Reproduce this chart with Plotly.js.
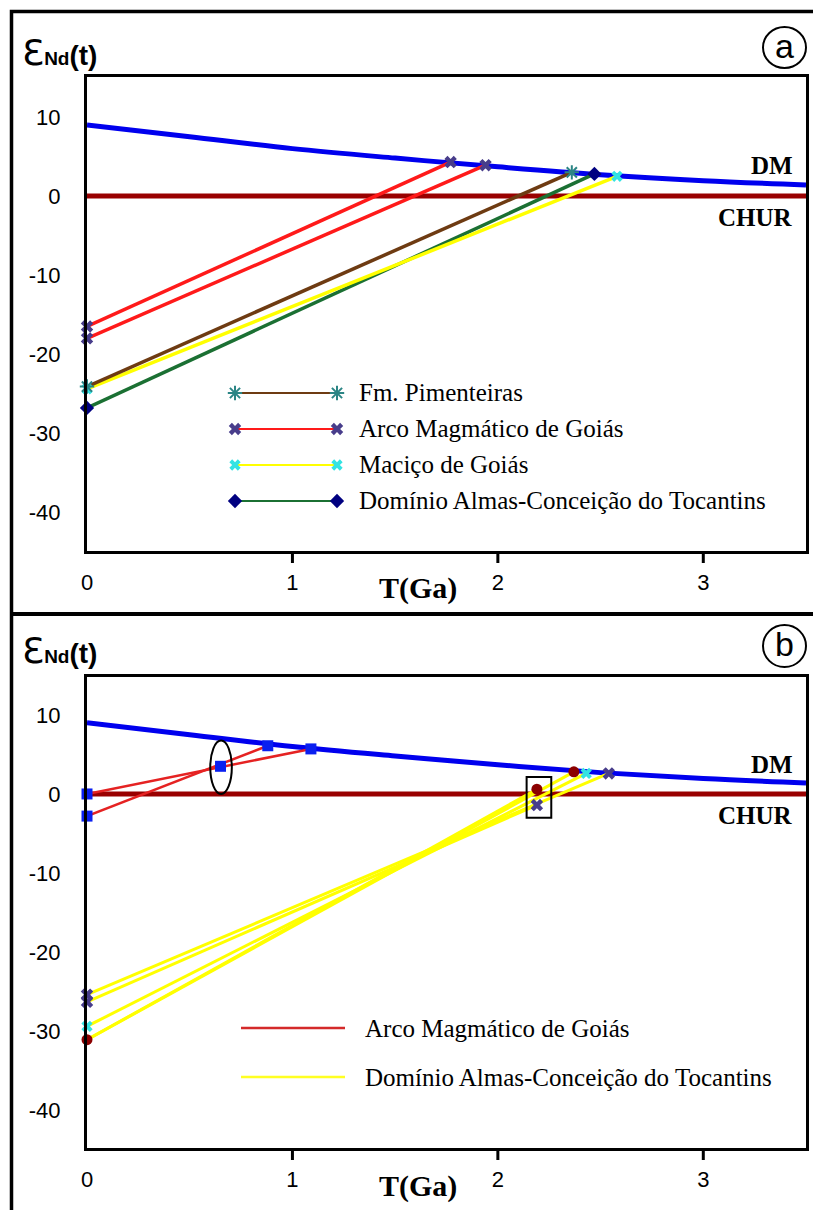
<!DOCTYPE html>
<html>
<head>
<meta charset="utf-8">
<script src="https://cdn.plot.ly/plotly-3.0.1.min.js"></script>
<style>html,body{margin:0;padding:0;background:#fff;}#chart{width:813px;height:1210px;}</style>
</head>
<body>
<div id="chart"></div>
<script>
// ---------------- DATA ----------------
const X_TICKS = [0, 1, 2, 3];
const X_TICK_TEXT = ['0', '1', '2', '3'];
const Y_TICKS = [10, 0, -10, -20, -30, -40];
const Y_TICK_TEXT = ['10', '0', '-10', '-20', '-30', '-40'];
const X_TICK_MARKS = [1, 2, 3];

// reference curves
const DM_T = [0, 0.5, 1.0, 1.5, 2.0, 2.5, 3.0, 3.5];
const DM_E = [9.0, 7.5, 6.0, 4.8, 3.7, 2.7, 1.95, 1.4];
const CHUR_T = [0, 3.5];
const CHUR_E = [0, 0];

// panel (a)
const A_PIM_T = [0, 2.36];   const A_PIM_E = [-24.1, 3.0];
const A_ARCO1_T = [0, 1.77]; const A_ARCO1_E = [-16.5, 4.3];
const A_ARCO2_T = [0, 1.94]; const A_ARCO2_E = [-18.0, 3.9];
const A_MAC_T = [0, 2.58];   const A_MAC_E = [-24.4, 2.5];
const A_DOM_T = [0, 2.47];   const A_DOM_E = [-26.8, 2.8];
const A_LEGEND = ['Fm. Pimenteiras', 'Arco Magmático de Goiás', 'Maciço de Goiás', 'Domínio Almas-Conceição do Tocantins'];

// panel (b)
const B_ARCO1_T = [0, 1.09];  const B_ARCO1_E = [0, 5.7];
const B_ARCO2_T = [0, 0.88];  const B_ARCO2_E = [-2.8, 6.1];
const B_SQ_T = [0, 0, 0.65, 0.88, 1.09];
const B_SQ_E = [0, -2.8, 3.5, 6.1, 5.7];
const B_DOM1_T = [0, 2.54]; const B_DOM1_E = [-25.4, 2.6];
const B_DOM2_T = [0, 2.19]; const B_DOM2_E = [-26.3, -1.4];
const B_DOM3_T = [0, 2.43]; const B_DOM3_E = [-29.4, 2.6];
const B_DOM4_T = [0, 2.37]; const B_DOM4_E = [-31.1, 2.8];
const B_DOM5_T = [0, 2.19]; const B_DOM5_E = [-31.1, 0.6];
const B_BX_T = [0, 0, 2.19, 2.54];  const B_BX_E = [-25.4, -26.3, -1.4, 2.6];
const B_CX_T = [0, 2.43];           const B_CX_E = [-29.4, 2.6];
const B_RC_T = [0, 2.19, 2.37];     const B_RC_E = [-31.1, 0.6, 2.8];
const B_LEGEND = ['Arco Magmático de Goiás', 'Domínio Almas-Conceição do Tocantins'];
// highlighted regions in panel b (data coords)
const B_ELLIPSE = {t: [0.60, 0.705], e: [0, 6.75]};
const B_BOX = {t: [2.14, 2.26], e: [-3.0, 2.15]};

// ---------------- LAYOUT HELPERS ----------------
const W = 813, H = 1210;
const PX = v => v / W;
const PY = v => 1 - v / H;

const C = {
  dm: '#0000ee', chur: '#990000', red: '#ff1a1a', brown: '#6e3b12',
  yellow: '#ffff00', green: '#1b7033', arco: '#483d8b', mac: '#33e3e3',
  pim: '#2b8585', dom: '#000080', sq: '#0a1ff0', rc: '#8b0000'
};
const M = {
  pim: {symbol: 'asterisk-open', size: 12, color: C.pim, line: {color: C.pim, width: 2}},
  arco: {symbol: 'x', size: 11, color: C.arco, line: {width: 0}},
  mac: {symbol: 'x', size: 10, color: C.mac, line: {width: 0}},
  dom: {symbol: 'diamond', size: 11, color: C.dom, line: {width: 0}},
  sq: {symbol: 'square', size: 11, color: C.sq, line: {width: 0}},
  rc: {symbol: 'circle', size: 11, color: C.rc, line: {width: 0}}
};

function line(x, y, color, width, xa, ya, marker) {
  const t = {x: x, y: y, xaxis: xa, yaxis: ya, type: 'scatter', hoverinfo: 'skip',
    mode: marker ? 'lines+markers' : 'lines', line: {color: color, width: width}, cliponaxis: false};
  if (marker) t.marker = marker;
  return t;
}
function marks(x, y, marker, xa, ya) {
  return {x: x, y: y, xaxis: xa, yaxis: ya, type: 'scatter', mode: 'markers', marker: marker,
    cliponaxis: false, hoverinfo: 'skip'};
}

const traces = [];
// panel a
traces.push(line(CHUR_T, CHUR_E, C.chur, 5, 'x', 'y'));
traces.push(Object.assign(line(DM_T, DM_E, C.dm, 5, 'x', 'y'), {line: {color: C.dm, width: 5, shape: 'spline'}}));
traces.push(line(A_DOM_T, A_DOM_E, C.green, 3.5, 'x', 'y'));
traces.push(line(A_MAC_T, A_MAC_E, C.yellow, 3.5, 'x', 'y'));
traces.push(line(A_PIM_T, A_PIM_E, C.brown, 3.5, 'x', 'y'));
traces.push(line(A_ARCO1_T, A_ARCO1_E, C.red, 3.5, 'x', 'y'));
traces.push(line(A_ARCO2_T, A_ARCO2_E, C.red, 3.5, 'x', 'y'));
traces.push(marks(A_DOM_T, A_DOM_E, M.dom, 'x', 'y'));
traces.push(marks(A_MAC_T, A_MAC_E, M.mac, 'x', 'y'));
traces.push(marks(A_PIM_T, A_PIM_E, M.pim, 'x', 'y'));
traces.push(marks(A_ARCO1_T, A_ARCO1_E, M.arco, 'x', 'y'));
traces.push(marks(A_ARCO2_T, A_ARCO2_E, M.arco, 'x', 'y'));

// panel b
traces.push(line(CHUR_T, CHUR_E, C.chur, 5, 'x2', 'y2'));
traces.push(Object.assign(line(DM_T, DM_E, C.dm, 5, 'x2', 'y2'), {line: {color: C.dm, width: 5, shape: 'spline'}}));
[[B_DOM1_T, B_DOM1_E], [B_DOM2_T, B_DOM2_E], [B_DOM3_T, B_DOM3_E], [B_DOM4_T, B_DOM4_E], [B_DOM5_T, B_DOM5_E]]
  .forEach(p => traces.push(line(p[0], p[1], C.yellow, 3, 'x2', 'y2')));
traces.push(line(B_ARCO1_T, B_ARCO1_E, '#e52222', 2.5, 'x2', 'y2'));
traces.push(line(B_ARCO2_T, B_ARCO2_E, '#e52222', 2.5, 'x2', 'y2'));
traces.push(marks(B_SQ_T, B_SQ_E, M.sq, 'x2', 'y2'));
traces.push(marks(B_BX_T, B_BX_E, M.arco, 'x2', 'y2'));
traces.push(marks(B_CX_T, B_CX_E, M.mac, 'x2', 'y2'));
traces.push(marks(B_RC_T, B_RC_E, M.rc, 'x2', 'y2'));

// legend samples (overlay pixel axes)
const LEG_A = {x0: 235, x1: 337, xt: 357, rows: [393, 429, 465, 501]};
const LEG_B = {x0: 241, x1: 345, xt: 363, rows: [1028, 1077]};
const legA = [[C.brown, M.pim], [C.red, M.arco], [C.yellow, M.mac], [C.green, M.dom]];
legA.forEach((s, i) => {
  const r = LEG_A.rows[i];
  traces.push(line([LEG_A.x0, LEG_A.x1], [r, r], s[0], 2, 'x3', 'y3', s[1]));
});
const legB = [['#d42a2a'], ['#ffff22']];
legB.forEach((s, i) => {
  const r = LEG_B.rows[i];
  traces.push(line([LEG_B.x0, LEG_B.x1], [r, r], s[0], 2.5, 'x3', 'y3'));
});

// ---------------- AXES ----------------
const tickFont = {family: 'Liberation Sans, Arial, sans-serif', size: 22, color: '#000'};
function xax(anchor) {
  return {domain: [PX(87), PX(806)], anchor: anchor, range: [0, 3.5], showgrid: false, zeroline: false,
    showline: true, mirror: true, linecolor: '#000', linewidth: 3, ticks: '',
    tickvals: X_TICKS, ticktext: X_TICK_TEXT, tickfont: tickFont, ticklabelstandoff: 10, fixedrange: true};
}
function yax(anchor, dom, rng) {
  return {domain: dom, anchor: anchor, range: rng, showgrid: false, zeroline: false,
    showline: true, mirror: true, linecolor: '#000', linewidth: 3, ticks: '',
    tickvals: Y_TICKS, ticktext: Y_TICK_TEXT, tickfont: tickFont, ticklabelstandoff: 19, fixedrange: true};
}

const shapes = [];
// outer frame and divider
shapes.push({type: 'rect', xref: 'paper', yref: 'paper', x0: PX(11.5), x1: PX(830), y0: PY(1230), y1: PY(11.5),
  line: {color: '#000', width: 3.5}, layer: 'below'});
shapes.push({type: 'line', xref: 'paper', yref: 'paper', x0: PX(11.5), x1: 1.02, y0: PY(614), y1: PY(614),
  line: {color: '#000', width: 4}});
// x tick marks
X_TICK_MARKS.forEach(v => {
  shapes.push({type: 'line', xref: 'x', yref: 'paper', x0: v, x1: v, y0: PY(551), y1: PY(563), line: {color: '#000', width: 3}});
  shapes.push({type: 'line', xref: 'x2', yref: 'paper', x0: v, x1: v, y0: PY(1148), y1: PY(1160), line: {color: '#000', width: 3}});
});
// panel labels circles
shapes.push({type: 'circle', xref: 'paper', yref: 'paper', x0: PX(763), x1: PX(806), y0: PY(68), y1: PY(27), line: {color: '#000', width: 2}});
shapes.push({type: 'circle', xref: 'paper', yref: 'paper', x0: PX(763), x1: PX(806), y0: PY(667), y1: PY(625), line: {color: '#000', width: 2}});
// highlight ellipse & box in panel b
shapes.push({type: 'circle', xref: 'x2', yref: 'y2', x0: B_ELLIPSE.t[0], x1: B_ELLIPSE.t[1], y0: B_ELLIPSE.e[0], y1: B_ELLIPSE.e[1],
  line: {color: '#000', width: 2}});
shapes.push({type: 'rect', xref: 'x2', yref: 'y2', x0: B_BOX.t[0], x1: B_BOX.t[1], y0: B_BOX.e[0], y1: B_BOX.e[1],
  line: {color: '#000', width: 2}});

const serifB = {family: 'Liberation Serif, Times New Roman, serif', size: 25, color: '#000'};
const annotations = [];
function ann(text, x, y, font, xanchor) {
  annotations.push({text: text, xref: 'paper', yref: 'paper', x: PX(x), y: PY(y), showarrow: false,
    xanchor: xanchor || 'center', yanchor: 'middle', font: font});
}
const epsText = '<span style="font-family:\'DejaVu Sans\';font-size:36px">Ɛ</span>' +
  '<b><span style="font-size:19px">Nd</span><span style="font-size:28px">(t)</span></b>';
const epsFont = {family: 'Liberation Sans, Arial, sans-serif', size: 28, color: '#000'};
ann(epsText, 20, 52, epsFont, 'left');
ann(epsText, 20, 650, epsFont, 'left');
ann('a', 784.5, 46, {family: 'Liberation Sans, Arial, sans-serif', size: 34, color: '#000'});
ann('b', 784.5, 644, {family: 'Liberation Sans, Arial, sans-serif', size: 34, color: '#000'});
ann('<b>DM</b>', 795, 166, serifB, 'right');
ann('<b>CHUR</b>', 795, 217, serifB, 'right');
ann('<b>DM</b>', 795, 764, serifB, 'right');
ann('<b>CHUR</b>', 795, 815, serifB, 'right');
const tgaFont = {family: 'Liberation Serif, Times New Roman, serif', size: 30, color: '#000'};
ann('<b>T(Ga)</b>', 418, 588, tgaFont);
ann('<b>T(Ga)</b>', 418, 1186, tgaFont);
const legFont = {family: 'Liberation Serif, Times New Roman, serif', size: 25, color: '#000'};
A_LEGEND.forEach((t, i) => ann(t, LEG_A.xt, LEG_A.rows[i], legFont, 'left'));
B_LEGEND.forEach((t, i) => ann(t, LEG_B.xt, LEG_B.rows[i], legFont, 'left'));

const layout = {
  width: W, height: H, margin: {l: 0, r: 0, t: 0, b: 0}, paper_bgcolor: '#fff', plot_bgcolor: 'rgba(0,0,0,0)',
  showlegend: false, hovermode: false,
  xaxis: xax('y'),
  yaxis: yax('x', [PY(551), PY(77)], [-44.9, 15.06]),
  xaxis2: xax('y2'),
  yaxis2: yax('x2', [PY(1148), PY(677)], [-44.8, 14.8]),
  xaxis3: {domain: [0, 1], anchor: 'y3', range: [0, W], visible: false, fixedrange: true},
  yaxis3: {domain: [0, 1], anchor: 'x3', range: [H, 0], visible: false, fixedrange: true},
  shapes: shapes, annotations: annotations
};

Plotly.newPlot('chart', traces, layout, {staticPlot: true, displayModeBar: false});
</script>
</body>
</html>
